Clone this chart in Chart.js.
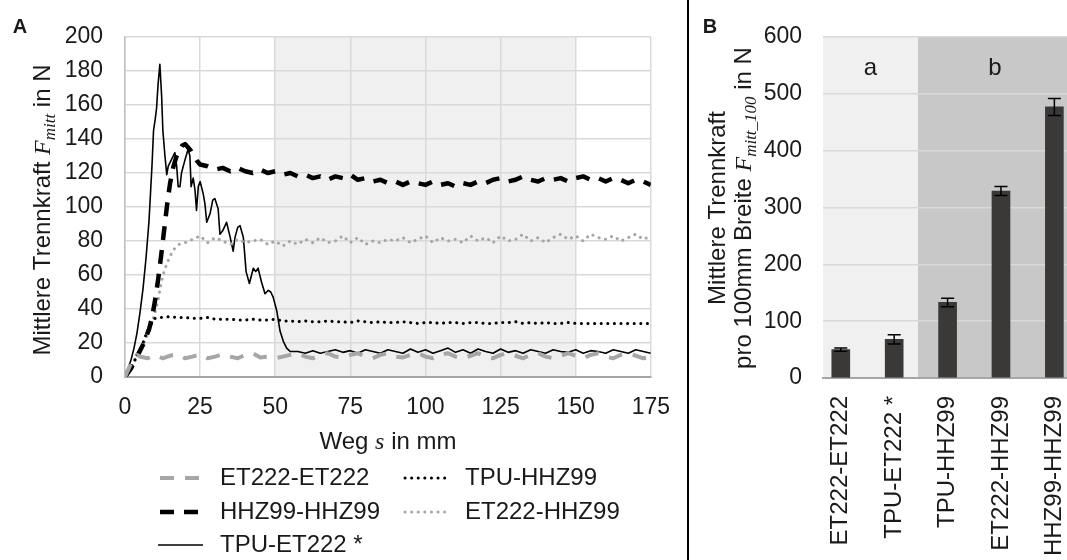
<!DOCTYPE html>
<html>
<head>
<meta charset="utf-8">
<script src="https://cdn.jsdelivr.net/npm/chart.js@4.4.1/dist/chart.umd.min.js"></script>
<style>
html, body { margin: 0; padding: 0; background: #fff; overflow: hidden; width: 1067px; height: 560px; }
#links { position: absolute; left: 0; top: 0; }
#rechts { position: absolute; left: 692px; top: 0; }
#trenner { position: absolute; left: 687px; top: 0; width: 2px; height: 560px; background: #000; }
</style>
</head>
<body>
<canvas id="links" width="687" height="560"></canvas>
<div id="trenner"></div>
<canvas id="rechts" width="380" height="560"></canvas>
<script>
// ---- Daten A: Trennkraft ueber Weg ----
const wegEtEt = [0,1,2,3,4,5,7.5,10,12.5,15,17.5,20,22.5,25,27.5,30,32.5,35,37.5,40,42.5,45,47.5,50,52.5,55,57.5,60,62.5,65,67.5,70,72.5,75,77.5,80,82.5,85,87.5,90,92.5,95,97.5,100,102.5,105,107.5,110,112.5,115,117.5,120,122.5,125,127.5,130,132.5,135,137.5,140,142.5,145,147.5,150,152.5,155,157.5,160,162.5,165,167.5,170,172.5,175];
const kraftEtEt = [0,4,8,11,13,12,11,13,11,12.5,13.5,11,12,13.5,11,12,13.5,12,11,13,14,11.5,12,11,12,13,14,12,11,13,14,12,11.5,13,14,12,11,13,14,12,11.5,13,14,12,11,13,14,12,11,12.5,14,12,11,13,14,12.5,11,13,14,12,11,12.5,14,12.5,11,13,14,12,11,13,14,12.5,11,12];

const wegTpuHhz = [0,1,2,3,4,5,6,7,8,9,10,12,15,17.5,20,22.5,25,27.5,30,32.5,35,37.5,40,42.5,45,47.5,50,52.5,55,57.5,60,62.5,65,67.5,70,72.5,75,77.5,80,82.5,85,87.5,90,92.5,95,97.5,100,102.5,105,107.5,110,112.5,115,117.5,120,122.5,125,127.5,130,132.5,135,137.5,140,142.5,145,147.5,150,152.5,155,157.5,160,162.5,165,167.5,170,172.5,175];
const kraftTpuHhz = [0,3,6,9,13,16,20,25,29,32.5,34.5,35,35.5,35,35,34.5,34.5,35,34,34,34,33.5,33.5,34,33.5,33.5,34,33,33,32.5,33,32.5,32.5,33,32.5,32.5,32,33,32.5,32,32.5,32,32,32.5,32,31.5,32,32,31.5,32,32,31.5,32,32,31.5,31.5,32,32,32.5,31.5,32,31.5,32,31.5,31.5,32,31.5,31.5,31.5,31.5,31.5,31.5,31.5,31.5,31.5,31.5,31.5];

const wegHhzHhz = [0,2,4,6,8,9,10,11,12,13,14,15,16,17,18,19,20,21,22,23,24,25,27.5,30,32.5,35,37.5,40,42.5,45,47.5,50,52.5,55,57.5,60,62.5,65,67.5,70,72.5,75,77.5,80,82.5,85,87.5,90,92.5,95,97.5,100,102.5,105,107.5,110,112.5,115,117.5,120,122.5,125,127.5,130,132.5,135,137.5,140,142.5,145,147.5,150,152.5,155,157.5,160,162.5,165,167.5,170,172.5,175];
const kraftHhzHhz = [0,5,12,19,28,35,45,57,71,86,101,114,123,129,133,136,137,135,133,130,127,125,124,122,123,121,123,121,120,122,120,121,119,120,118,119,117,118,116,118,117,119,116,117,115,116,114,115,113,115,114,113,115,113,114,112,114,113,115,114,116,117,115,116,118,116,115,117,116,117,115,117,118,116,117,115,117,116,114,116,115,113];

const wegEtHhz = [0,1,2,3,4,5,6,7,8,9,10,11,12,13,14,15,16,17,18,19,20,22.5,25,27.5,30,32.5,35,37.5,40,42.5,45,47.5,50,52.5,55,57.5,60,62.5,65,67.5,70,72.5,75,77.5,80,82.5,85,87.5,90,92.5,95,97.5,100,102.5,105,107.5,110,112.5,115,117.5,120,122.5,125,127.5,130,132.5,135,137.5,140,142.5,145,147.5,150,152.5,155,157.5,160,162.5,165,167.5,170,172.5,175];
const kraftEtHhz = [0,2,5,8,12,15,19,23,27,32,38,45,55,62,67,71,74.5,76.5,78,78.5,79,81,83,79,82,80,78,81,79,80,81,78,80,77,80,78,81,79,82,79,80,83,79,82,78,80,79,81,80,82,79,81,83,79,82,80,81,79,83,80,82,79,83,80,81,84,80,82,79,82,84,81,83,80,84,82,81,83,80,82,84,81,83];

const wegTpuEt = [0,1,2,3,4,5,6,7,8,9,9.5,10,10.5,11,11.6,12.2,12.6,13.3,13.9,14.4,15.5,16.6,17.2,17.7,18.3,18.8,20,21,21.6,22,22.7,23.3,23.8,24.4,25,26,26.6,27.2,28.3,29.2,29.9,31,31.6,32.5,33.8,34.9,36,36.6,37.5,38.3,39.4,40.3,41.4,42.7,43.5,44.3,45.4,46.6,47.7,48.5,49.3,50.5,51.6,52.7,53.8,55,57.5,60,62.5,65,67.5,70,72.5,75,77.5,80,82.5,85,87.5,90,92.5,95,97.5,100,102.5,105,107.5,110,112.5,115,117.5,120,122.5,125,127.5,130,132.5,135,137.5,140,142.5,145,147.5,150,152.5,155,157.5,160,162.5,165,167.5,170,172.5,175];
const kraftTpuEt = [1,5,10,17,26,38,52,70,92,125,145,151,158,172,184,165,145,130,119,124,128,132,124,112,112,120,128,134,130,112,117,110,98,112,115,108,102,91,96,104,105,99,84,86,91,83,74,82,88,89,82,62,55,64,62,64,56,49,51,50,47,39,27,21,17,15,15,14,15.5,14,15,16,14.5,15.5,14,16,15,14,16,15,14,16.5,14.5,16,14,15.5,17,14.5,16,14,16.5,15,14,16.5,14.5,15.5,14,16,15,14,16,15,14.5,16,14,15.5,15,14,16,15,14,16,15,14];

// ---- Daten B: mittlere Trennkraft pro 100 mm Breite ----
const kategorien = ['ET222-ET222', 'TPU-ET222 *', 'TPU-HHZ99', 'ET222-HHZ99', 'HHZ99-HHZ99'];
const mittelwerte = [50, 68, 133, 329, 477];
const fehler = [3, 8, 7.5, 8, 15];
const gruppen = ['a', 'b'];
const yTicksB = [0, 100, 200, 300, 400, 500, 600];

const SANS = '"Liberation Sans", Arial, sans-serif';
const SERIF = '"Liberation Serif", "DejaVu Serif", serif';
const TEXT = '#1a1a1a';
const GRAU = '#a6a6a6';

Chart.defaults.font.family = SANS;
Chart.defaults.color = TEXT;

const punkte = (xs, ys) => xs.map((x, i) => ({x: x, y: ys[i]}));

// Text mit Kursiv/Index-Teilen, zentriert, optional gedreht
function richText(ctx, segs, cx, cy, rot) {
    ctx.save();
    ctx.translate(cx, cy);
    ctx.rotate(rot || 0);
    ctx.fillStyle = TEXT;
    ctx.textBaseline = 'alphabetic';
    let total = 0;
    segs.forEach(s => { ctx.font = s.font; s.w = ctx.measureText(s.text).width; total += s.w; });
    let x = -total / 2;
    segs.forEach(s => {
        ctx.font = s.font;
        ctx.fillText(s.text, x, s.dy || 0);
        x += s.w;
    });
    ctx.restore();
}

const bereichPlugin = {
    id: 'bereich',
    beforeDraw(chart, args, opts) {
        const {ctx, chartArea} = chart;
        const xs = chart.scales.x;
        ctx.save();
        opts.bereiche.forEach(b => {
            const x0 = Math.max(xs.getPixelForValue(b.von), chartArea.left);
            const x1 = Math.min(xs.getPixelForValue(b.bis), chart.width);
            ctx.fillStyle = b.farbe;
            ctx.fillRect(x0, chartArea.top, x1 - x0, chartArea.bottom - chartArea.top);
            if (b.text) {
                ctx.fillStyle = TEXT;
                ctx.font = '24px ' + SANS;
                ctx.textAlign = 'center';
                ctx.textBaseline = 'middle';
                ctx.fillText(b.text, (xs.getPixelForValue(b.von) + xs.getPixelForValue(b.bis)) / 2,
                    chart.scales.y.getPixelForValue(b.textY));
            }
        });
        ctx.restore();
    }
};

const legendePlugin = {
    id: 'legende',
    afterDraw(chart, args, opts) {
        const ctx = chart.ctx;
        opts.eintraege.forEach(e => {
            const ds = chart.data.datasets[e.index];
            ctx.save();
            ctx.strokeStyle = ds.borderColor;
            ctx.lineWidth = ds.borderWidth;
            ctx.lineCap = ds.borderCapStyle || 'butt';
            ctx.setLineDash(ds.borderDash || []);
            ctx.beginPath();
            ctx.moveTo(e.x, e.y);
            ctx.lineTo(e.x + e.len, e.y);
            ctx.stroke();
            ctx.setLineDash([]);
            ctx.fillStyle = TEXT;
            ctx.font = '24px ' + SANS;
            ctx.textBaseline = 'middle';
            ctx.fillText(ds.label, e.textX, e.y);
            ctx.restore();
        });
    }
};

const titelPlugin = {
    id: 'titel',
    afterDraw(chart, args, opts) {
        const ctx = chart.ctx;
        ctx.save();
        ctx.fillStyle = TEXT;
        ctx.font = 'bold 20px ' + SANS;
        ctx.textAlign = 'center';
        ctx.textBaseline = 'middle';
        ctx.fillText(opts.buchstabe, opts.bx, opts.by);
        ctx.restore();
        opts.texte.forEach(t => richText(ctx, t.segs, t.x, t.y, t.rot));
    }
};

const fehlerPlugin = {
    id: 'fehler',
    afterDatasetsDraw(chart) {
        const {ctx, scales} = chart;
        ctx.save();
        ctx.strokeStyle = '#000';
        ctx.lineWidth = 1.5;
        mittelwerte.forEach((m, i) => {
            const x = scales.x.getPixelForValue(i);
            const yo = scales.y.getPixelForValue(m + fehler[i]);
            const yu = scales.y.getPixelForValue(m - fehler[i]);
            ctx.beginPath();
            ctx.moveTo(x, yo); ctx.lineTo(x, yu);
            ctx.moveTo(x - 6.5, yo); ctx.lineTo(x + 6.5, yo);
            ctx.moveTo(x - 6.5, yu); ctx.lineTo(x + 6.5, yu);
            ctx.stroke();
        });
        ctx.restore();
    }
};

const gross = '24px ' + SANS;
const kursiv = 'italic 24px ' + SERIF;
const index = 'italic 17px ' + SERIF;

new Chart(document.getElementById('links'), {
    type: 'line',
    plugins: [bereichPlugin, legendePlugin, titelPlugin],
    data: {
        datasets: [{
            label: 'ET222-ET222',
            data: punkte(wegEtEt, kraftEtEt),
            borderColor: GRAU,
            borderWidth: 4,
            borderDash: [14, 11]
        }, {
            label: 'TPU-HHZ99',
            data: punkte(wegTpuHhz, kraftTpuHhz),
            borderColor: '#000',
            borderWidth: 3,
            borderDash: [0.1, 6.5],
            borderCapStyle: 'round'
        }, {
            label: 'HHZ99-HHZ99',
            data: punkte(wegHhzHhz, kraftHhzHhz),
            borderColor: '#000',
            borderWidth: 4.5,
            borderDash: [14, 10]
        }, {
            label: 'ET222-HHZ99',
            data: punkte(wegEtHhz, kraftEtHhz),
            borderColor: GRAU,
            borderWidth: 3,
            borderDash: [0.1, 6.5],
            borderCapStyle: 'round'
        }, {
            label: 'TPU-ET222 *',
            data: punkte(wegTpuEt, kraftTpuEt),
            borderColor: '#000',
            borderWidth: 1.6
        }]
    },
    options: {
        responsive: false,
        animation: false,
        events: [],
        elements: { point: { radius: 0 }, line: { tension: 0, borderJoinStyle: 'round' } },
        layout: { padding: { left: 0, right: 36, top: 37, bottom: 0 } },
        plugins: {
            legend: { display: false },
            tooltip: { enabled: false },
            bereich: { bereiche: [{ von: 50, bis: 150, farbe: '#f0f0f0' }] },
            legende: {
                eintraege: [
                    { index: 0, x: 160, len: 43, y: 478, textX: 220 },
                    { index: 1, x: 405, len: 40, y: 478, textX: 465 },
                    { index: 2, x: 160, len: 43, y: 512, textX: 220 },
                    { index: 3, x: 405, len: 40, y: 512, textX: 465 },
                    { index: 4, x: 158, len: 45, y: 545, textX: 220 }
                ]
            },
            titel: {
                buchstabe: 'A', bx: 20, by: 27,
                texte: [
                    { x: 50, y: 210, rot: -Math.PI / 2, segs: [
                        { text: 'Mittlere Trennkraft ', font: gross },
                        { text: 'F', font: kursiv },
                        { text: 'mitt', font: index, dy: 5 },
                        { text: ' in N', font: gross }
                    ] },
                    { x: 388, y: 449, rot: 0, segs: [
                        { text: 'Weg ', font: gross },
                        { text: 's', font: kursiv },
                        { text: ' in mm', font: gross }
                    ] }
                ]
            }
        },
        scales: {
            x: {
                type: 'linear', min: 0, max: 175,
                ticks: { stepSize: 25, font: { size: 23 }, padding: 17, color: TEXT },
                grid: { color: '#d9d9d9', lineWidth: 1.5, drawTicks: false },
                border: { color: GRAU, width: 2 },
                afterFit: s => { s.height = 183; }
            },
            y: {
                min: 0, max: 200,
                ticks: { stepSize: 20, font: { size: 23 }, padding: 22, color: TEXT },
                grid: { color: '#d9d9d9', lineWidth: 1.5, drawTicks: false },
                border: { color: '#bfbfbf', width: 1.5 },
                afterFit: s => { s.width = 125; }
            }
        }
    }
});

new Chart(document.getElementById('rechts'), {
    type: 'bar',
    plugins: [bereichPlugin, fehlerPlugin, titelPlugin],
    data: {
        datasets: [{
            label: 'Mittlere Trennkraft',
            data: punkte(kategorien.map((k, i) => i), mittelwerte),
            backgroundColor: '#3b3838',
            barThickness: 18
        }]
    },
    options: {
        responsive: false,
        animation: false,
        events: [],
        layout: { padding: { left: 0, right: 0, top: 37, bottom: 0 } },
        plugins: {
            legend: { display: false },
            tooltip: { enabled: false },
            bereich: {
                bereiche: [
                    { von: -0.333, bis: 1.446, farbe: '#f0f0f0', text: gruppen[0], textY: 545 },
                    { von: 1.446, bis: 4.33, farbe: '#c8c8c8', text: gruppen[1], textY: 545 }
                ]
            },
            titel: {
                buchstabe: 'B', bx: 18, by: 27,
                texte: [
                    { x: 33, y: 208, rot: -Math.PI / 2, segs: [
                        { text: 'Mittlere Trennkraft', font: gross }
                    ] },
                    { x: 59, y: 208, rot: -Math.PI / 2, segs: [
                        { text: 'pro 100mm Breite ', font: gross },
                        { text: 'F', font: kursiv },
                        { text: 'mitt_100', font: index, dy: 5 },
                        { text: ' in N', font: gross }
                    ] }
                ]
            }
        },
        scales: {
            x: {
                type: 'linear', min: -0.333, max: 4.33, offset: false,
                afterBuildTicks: s => { s.ticks = kategorien.map((k, i) => ({ value: i })); },
                ticks: {
                    autoSkip: false, maxRotation: 90, minRotation: 90,
                    font: { size: 24 }, padding: 10, color: TEXT,
                    callback: v => kategorien[v]
                },
                grid: { display: false, offset: false },
                border: { color: GRAU, width: 2 },
                afterFit: s => { s.height = 182; s.paddingLeft = 0; s.paddingRight = 0; }
            },
            y: {
                min: 0, max: 600,
                afterBuildTicks: s => { s.ticks = yTicksB.map(v => ({ value: v })); },
                ticks: { font: { size: 23 }, padding: 21, color: TEXT },
                grid: { color: '#d9d9d9', lineWidth: 1.5, drawTicks: false },
                border: { display: false },
                afterFit: s => { s.width = 131; }
            }
        }
    }
});
</script>
</body>
</html>
